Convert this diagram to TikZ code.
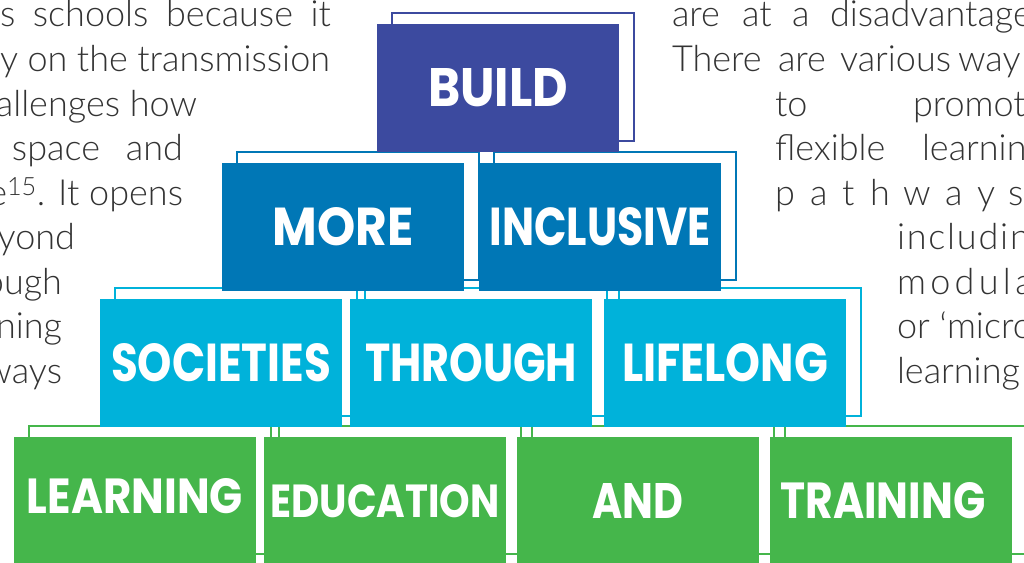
\documentclass[tikz,border=0pt]{standalone}
\usepackage{fontspec}
\usepackage{graphicx}
\usetikzlibrary{backgrounds}
\newfontfamily\bodyfont{Lato Light}
\newfontfamily\boxfont{Poppins}[UprightFont=* Bold]
\definecolor{cbuild}{HTML}{3C4A9F}
\definecolor{cmore}{HTML}{0077B6}
\definecolor{csoc}{HTML}{00B2DA}
\definecolor{clearn}{HTML}{45B64B}
\definecolor{bodygray}{HTML}{333333}
\newcommand\boxword[3]{\resizebox{#1pt}{#2pt}{#3}}
\tikzset{
  pbox/.style={minimum width=242pt, minimum height=128pt, inner sep=0pt, outer sep=0pt,
    anchor=north west, text=white, font=\boxfont\fontsize{52}{52}\selectfont},
  body/.style={inner sep=0pt, outer sep=0pt, anchor=base west, text=bodygray,
    font=\bodyfont\fontsize{36}{36}\selectfont},
  ghost/.style={line width=2pt}
}
\begin{document}
\begin{tikzpicture}[x=1pt,y=-1pt]
\useasboundingbox (0,0) rectangle (1024,562);
\clip (0,0) rectangle (1024,562);
% left text column
\node[body] (l1) at (0,27) {\makebox[331pt][s]{s schools because it}};
\node[body] (l2) at (0,71.5) {\makebox[330pt][s]{y on the transmission}};
\node[body, anchor=base east] (l3) at (197,116) {allenges how};
\node[body] (l4) at (12,160.5) {\makebox[171pt][s]{space and}};
\node[body, anchor=base east] (l5) at (183,205) {e\textsuperscript{15}. It opens};
\node[body, anchor=base east] (l6) at (75,249.5) {yond};
\node[body, anchor=base east] (l7) at (62,294) {ough};
\node[body, anchor=base east] (l8) at (62,338.5) {ning};
\node[body, anchor=base east] (l9) at (62,383) {ways};
% right text column
\foreach \x/\w [count=\i] in {672/are,742/at,792/a,830/disadvantage}
  \node[body] (ra\i) at (\x,27) {\w};
\foreach \x/\w [count=\i] in {672/There,778/are,840/various,958/way}
  \node[body] (rb\i) at (\x,71.5) {\w};
\foreach \x/\w [count=\i] in {775/to,913/promot}
  \node[body] (rc\i) at (\x,116) {\w};
\foreach \x/\w [count=\i] in {775/flexible,922/learnin}
  \node[body] (rd\i) at (\x,160.5) {\w};
\foreach \x/\w [count=\i] in {775/p,810/a,842/t,870/h,903/w,945/a,977/y,1008/s}
  \node[body] (re\i) at (\x,205) {\w};
\node[body] (rf) at (897,249.5) {\addfontfeature{LetterSpace=5}includin};
\node[body] (rg) at (897,294) {\addfontfeature{LetterSpace=12}modula};
\node[body] (rh) at (897,338.5) {or ‘micro};
\node[body] (ri) at (897,383) {learning};
% pyramid boxes
\node[pbox, fill=cbuild] (build) at (377,24) {\boxword{140}{38}{BUILD}};
\node[pbox, fill=cmore] (more) at (222,163) {\boxword{141}{38}{MORE}};
\node[pbox, fill=cmore] (incl) at (479,163) {\boxword{221}{38}{INCLUSIVE}};
\node[pbox, fill=csoc] (soc) at (100,299) {\boxword{220}{38}{SOCIETIES}};
\node[pbox, fill=csoc] (thr) at (350,299) {\boxword{212}{38}{THROUGH}};
\node[pbox, fill=csoc] (life) at (604,299) {\boxword{206}{38}{LIFELONG}};
\node[pbox, fill=clearn] (learn) at (14,437) {\raisebox{10pt}{\boxword{216}{35}{LEARNING}}};
\node[pbox, fill=clearn] (edu) at (264,437) {\boxword{229}{33}{EDUCATION}};
\node[pbox, fill=clearn] (and) at (517,437) {\boxword{91}{35}{AND}};
\node[pbox, fill=clearn] (train) at (770,437) {\hspace*{-16pt}\boxword{205}{36}{TRAINING}};
\begin{scope}[on background layer]
\foreach \n/\c in {build/cbuild,more/cmore,incl/cmore,soc/csoc,thr/csoc,life/csoc,learn/clearn,edu/clearn,and/clearn,train/clearn}
  \draw[ghost, draw=\c] ([shift={(15pt,11pt)}]\n.north west) rectangle ([shift={(15pt,11pt)}]\n.south east);
\end{scope}
\end{tikzpicture}
\end{document}
